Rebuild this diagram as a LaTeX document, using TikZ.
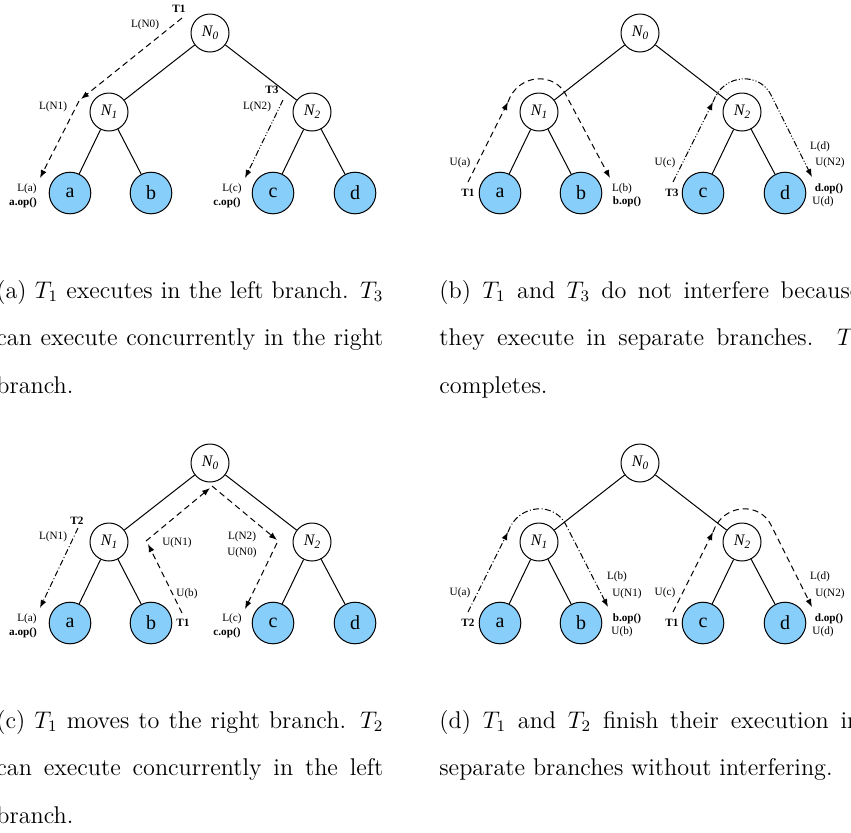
\documentclass[tikz,border=0pt]{standalone}
\usepackage{fontspec}
\newfontfamily\tnr{Liberation Serif}
\usetikzlibrary{arrows.meta}
\definecolor{leafblue}{RGB}{135,206,250}
\tikzset{
  inode/.style={circle, draw, fill=white, line width=0.5pt, minimum size=19pt, inner sep=0pt},
  leaf/.style={circle, draw, fill=leafblue, line width=0.5pt, minimum size=20.8pt, inner sep=0pt,
    font=\tnr\fontsize{10}{12}\selectfont},
  edge/.style={line width=0.5pt},
  lbl/.style={inner sep=0pt, font=\tnr\fontsize{5.6}{6.7}\selectfont},
  blbl/.style={inner sep=0pt, font=\tnr\bfseries\fontsize{5.6}{6.7}\selectfont},
  arr/.style={-{Latex[length=4pt,width=3pt]}, line width=0.5pt},
  dsh/.style={arr, dash pattern=on 3pt off 2pt},
  ddot/.style={arr, dash pattern=on 3pt off 1.2pt on 0.5pt off 1.2pt},
  dddot/.style={arr, dash pattern=on 3pt off 1pt on 0.5pt off 1pt on 0.5pt off 1pt},
  captxt/.style={inner sep=0pt, anchor=base west, font=\fontsize{12.1}{14}\selectfont},
}
\newcommand\nlab[1]{\tnr\fontsize{8}{9}\selectfont\itshape N\raisebox{-0.4ex}{\fontsize{5.6}{6}\selectfont #1}}
\newcommand\drawtree[3]{%
  \begin{scope}[shift={(#2,#3)}]
    \node[inode] (#1n0) at (210,33) {\nlab{0}};
    \node[inode] (#1n1) at (109,112) {\nlab{1}};
    \node[inode] (#1n2) at (312,112) {\nlab{2}};
    \node[leaf] (#1a) at (70,193) {a};
    \node[leaf] (#1b) at (151,193) {b};
    \node[leaf] (#1c) at (273,193) {c};
    \node[leaf] (#1d) at (355,193) {d};
    \draw[edge] (#1n0)--(#1n1) (#1n0)--(#1n2) (#1n1)--(#1a) (#1n1)--(#1b) (#1n2)--(#1c) (#1n2)--(#1d);
  \end{scope}}
\begin{document}
\begin{tikzpicture}[x=0.5pt, y=-0.5pt]
\useasboundingbox (0,0) rectangle (851,832);
\fill[white] (0,0) rectangle (851,832);
\clip (0,0) rectangle (851,832);

% ---------- panel (a)
\drawtree{A}{0}{0}
\node[blbl] (Aat1) at (179,9) {T1};
\node[lbl] (AaLN0) at (145,25) {L(N0)};
\node[lbl] (AaLN1) at (53,107) {L(N1)};
\node[lbl] (AaLa) at (27,189) {L(a)};
\node[blbl] (Aaop) at (23,203) {a.op()};
\node[blbl] (Aat3) at (272,90) {T3};
\node[lbl] (AaLN2) at (257,107) {L(N2)};
\node[lbl] (AaLc) at (232,189) {L(c)};
\node[blbl] (Acop) at (227,203) {c.op()};
\coordinate (pa1) at (182,18);
\coordinate (pa2) at (81,99);
\coordinate (pa3) at (79,101);
\coordinate (pa4) at (40,178);
\draw[dsh] (pa1) -- (pa2);
\draw[dsh] (pa3) -- (pa4);
\coordinate (qa1) at (283,100);
\coordinate (qa2) at (245,178);
\draw[dddot] (qa1) -- (qa2);

% ---------- panel (b)
\drawtree{B}{430}{0}
\node[blbl] (Bt1) at (468,193) {T1};
\node[lbl] (BUa) at (460,163) {U(a)};
\node[lbl] (BLb) at (622,189) {L(b)};
\node[blbl] (Bbop) at (627,202) {b.op()};
\node[blbl] (Bt3) at (672,193) {T3};
\node[lbl] (BUc) at (665,163) {U(c)};
\node[lbl] (BLd) at (820,147) {L(d)};
\node[lbl] (BUN2) at (830,163) {U(N2)};
\node[blbl] (Bdop) at (829,189) {d.op()};
\node[lbl] (BUd) at (823,202) {U(d)};
\coordinate (pb1) at (468,182);
\coordinate (pb2) at (508,102);
\coordinate (pb3) at (567,97);
\coordinate (pb4) at (610,178);
\draw[dsh] (pb1) -- (pb2);
\draw[dsh] (pb2) .. controls (518,73) and (556,71) .. (pb3) -- (pb4);
\coordinate (qb1) at (673,182);
\coordinate (qb2) at (713,102);
\coordinate (qb3) at (772,97);
\coordinate (qb4) at (812,177);
\draw[dddot] (qb1) -- (qb2);
\draw[dddot] (qb2) .. controls (723,73) and (761,71) .. (qb3) -- (qb4);

% ---------- panel (c)
\drawtree{C}{0}{430}
\node[blbl] (Ct2) at (77,521) {T2};
\node[lbl] (CLN1) at (53,537) {L(N1)};
\node[lbl] (CLa) at (27,619) {L(a)};
\node[blbl] (Caop) at (23,633) {a.op()};
\node[blbl] (Ct1) at (183,623) {T1};
\node[lbl] (CUb) at (187,594) {U(b)};
\node[lbl] (CUN1) at (177,543) {U(N1)};
\node[lbl] (CLN2) at (242,537) {L(N2)};
\node[lbl] (CUN0) at (242,553) {U(N0)};
\node[lbl] (CLc) at (232,619) {L(c)};
\node[blbl] (Ccop) at (227,633) {c.op()};
\coordinate (qc1) at (78,528);
\coordinate (qc2) at (40,608);
\draw[ddot] (qc1) -- (qc2);
\coordinate (pc1) at (182,613);
\coordinate (pc2) at (148,544);
\coordinate (pc3) at (146,541);
\coordinate (pc4) at (210,488);
\coordinate (pc5) at (212,486);
\coordinate (pc6) at (277,540);
\coordinate (pc7) at (277,543);
\coordinate (pc8) at (245,609);
\draw[dsh] (pc1) -- (pc2);
\draw[dsh] (pc3) -- (pc4);
\draw[dsh] (pc5) -- (pc6);
\draw[dsh] (pc7) -- (pc8);

% ---------- panel (d)
\drawtree{D}{430}{430}
\node[blbl] (Dt2) at (468,623) {T2};
\node[lbl] (DUa) at (460,593) {U(a)};
\node[lbl] (DLb) at (617,577) {L(b)};
\node[lbl] (DUN1) at (627,594) {U(N1)};
\node[blbl] (Dbop) at (627,619) {b.op()};
\node[lbl] (DUb) at (622,632) {U(b)};
\node[blbl] (Dt1) at (672,623) {T1};
\node[lbl] (DUc) at (665,593) {U(c)};
\node[lbl] (DLd) at (820,577) {L(d)};
\node[lbl] (DUN2) at (830,594) {U(N2)};
\node[blbl] (Ddop) at (829,619) {d.op()};
\node[lbl] (DUd) at (823,632) {U(d)};
\coordinate (qd1) at (468,612);
\coordinate (qd2) at (508,532);
\coordinate (qd3) at (567,527);
\coordinate (qd4) at (608,607);
\draw[ddot] (qd1) -- (qd2);
\draw[ddot] (qd2) .. controls (518,503) and (556,501) .. (qd3) -- (qd4);
\coordinate (pd1) at (673,612);
\coordinate (pd2) at (713,532);
\coordinate (pd3) at (772,527);
\coordinate (pd4) at (812,607);
\draw[dsh] (pd1) -- (pd2);
\draw[dsh] (pd2) .. controls (723,503) and (761,501) .. (pd3) -- (pd4);

% ---------- captions
\node[captxt] (capa1) at (-4,298) {\hbox to 193.5pt{(a) $T_1$ executes in the left branch. $T_3$}};
\node[captxt] (capa2) at (-4,345.5) {\hbox to 193.5pt{can execute concurrently in the right}};
\node[captxt] (capa3) at (-4,393) {branch.};
\node[captxt] (capb1) at (439,298) {\hbox to 210.5pt{(b) $T_1$ and $T_3$ do not interfere because}};
\node[captxt] (capb2) at (439,345.5) {\hbox to 210.5pt{they execute in separate branches. $T_3$}};
\node[captxt] (capb3) at (439,393) {completes.};
\node[captxt] (capc1) at (-4,728) {\hbox to 193.5pt{(c) $T_1$ moves to the right branch. $T_2$}};
\node[captxt] (capc2) at (-4,775.5) {\hbox to 193.5pt{can execute concurrently in the left}};
\node[captxt] (capc3) at (-4,823) {branch.};
\node[captxt] (capd1) at (439,728) {\hbox to 210.5pt{(d) $T_1$ and $T_2$ finish their execution in}};
\node[captxt] (capd2) at (439,775.5) {separate branches without interfering.};
\end{tikzpicture}
\end{document}
